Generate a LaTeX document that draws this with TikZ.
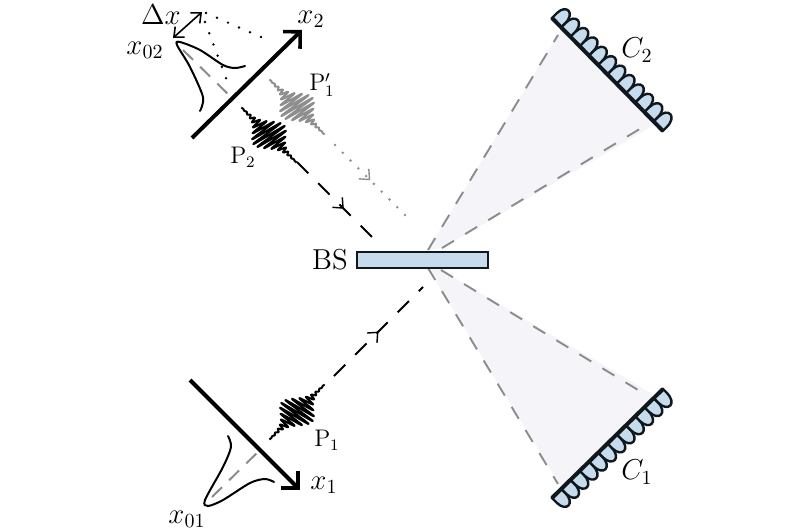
\documentclass[tikz,border=0pt]{standalone}
\usetikzlibrary{arrows.meta,decorations.markings}
\definecolor{bluefill}{HTML}{C6DCEC}
\definecolor{conefill}{HTML}{F4F4F9}
\definecolor{dashgray}{HTML}{8C8C8C}
\definecolor{pulsegray}{HTML}{8E8E8E}
\definecolor{edge}{HTML}{10181E}
\tikzset{
  axisline/.style={line width=2pt,-{Straight Barb[length=6pt,width=12pt,line width=1.8pt]}},
  conedash/.style={dashgray,line width=.95pt,dash pattern=on 7pt off 6.5pt},
  beamdash/.style={black,line width=.95pt,dash pattern=on 8pt off 7pt},
  dots/.style={line width=1.35pt,line cap=round,dash pattern=on 0pt off 6pt},
  graydots/.style={pulsegray,line width=1.4pt,line cap=round,dash pattern=on 0pt off 5.5pt},
  midtip/.style={postaction={decorate,decoration={markings,mark=at position #1 with {\arrow[solid,line width=.7pt]{Straight Barb[length=4pt,width=7pt]}}}}},
  bump/.style={fill=bluefill,draw=edge,line width=1.2pt},
  label/.style={inner sep=0pt,font=\large},
  biglabel/.style={inner sep=0pt,font=\Large},
  curve/.style={line width=1pt,smooth,line cap=round},
}
% #1 x0, #2 y0, #3 dx, #4 dy, #5 nx, #6 ny
\newcommand\detectorrow[6]{%
  \foreach \i in {0,...,11}{%
    \pgfmathsetmacro\ax{#1+\i*#3}\pgfmathsetmacro\ay{#2+\i*#4}%
    \pgfmathsetmacro\bx{\ax+#3}\pgfmathsetmacro\by{\ay+#4}%
    \draw[bump] (\ax,\ay) -- (\ax+7*#5,\ay+7*#6)
      .. controls (\ax+20*#5,\ay+20*#6) and (\bx+21*#5,\by+21*#6) .. (\bx+5*#5,\by+5*#6) -- (\bx,\by) -- cycle;
  }%
}
% #1 cx, #2 cy, #3 ux, #4 uy, #5 nx, #6 ny, #7 colour
\newcommand\pulse[7]{%
  \draw[#7,line width=1pt,line join=round] plot[domain=-39:39,samples=420,smooth,variable=\t]
    ({#1+(\t+.2*(16*exp(-(\t/14)^2)+1.6*(1-(\t/39)^2))*sin(\t*360/4.8))*#3+(16*exp(-(\t/14)^2)+1.6*(1-(\t/39)^2))*sin(\t*360/4.8)*#5},
     {#2+(\t+.2*(16*exp(-(\t/14)^2)+1.6*(1-(\t/39)^2))*sin(\t*360/4.8))*#4+(16*exp(-(\t/14)^2)+1.6*(1-(\t/39)^2))*sin(\t*360/4.8)*#6});
}
\begin{document}
\begin{tikzpicture}[x=.5pt,y=-.5pt]
\useasboundingbox[fill=white] (0,0) rectangle (800,530);
% anchors
\coordinate (x2s) at (192,138); \coordinate (x2e) at (302,30);
\coordinate (x1s) at (190,380); \coordinate (x1e) at (300,490);
\coordinate (apexT) at (428,250); \coordinate (apexTb) at (442,248);
\coordinate (c2a) at (558,35); \coordinate (c2b) at (643,127);
\coordinate (c2af) at (562,28); \coordinate (c2bf) at (656,124);
\coordinate (apexB) at (428,268); \coordinate (apexBb) at (441,270);
\coordinate (c1a) at (558,484); \coordinate (c1b) at (643,393);
\coordinate (c1af) at (562,488); \coordinate (c1bf) at (656,396);
% cones
\fill[conefill] (apexT) -- (c2af) -- (c2bf) -- (apexTb) -- cycle;
\fill[conefill] (apexB) -- (c1af) -- (c1bf) -- (apexBb) -- cycle;
\draw[conedash] (apexT) -- (c2a);
\draw[conedash] (apexTb) -- (c2b);
\draw[conedash] (apexB) -- (c1a);
\draw[conedash] (apexBb) -- (c1b);
% detectors
\detectorrow{552}{18}{9.25}{9.4}{.707}{-.707}
\draw[edge,line width=2pt] (552,18) -- (663,131);
\detectorrow{552}{498}{9.25}{-9.08}{.707}{.707}
\draw[edge,line width=2pt] (552,498) -- (663,389);
\node[biglabel] (C2) at (637,50) {$C_2$};
\node[biglabel] (C1) at (637,472) {$C_1$};
% beam splitter
\node[draw=edge,fill=bluefill,line width=1pt,minimum width=65.5pt,minimum height=8pt,inner sep=0pt] (BS) at (422.5,260) {};
\node[biglabel] (BSl) at (330,260) {BS};
% gaussians' dashed axes
\coordinate (g2a) at (183,50); \coordinate (g2b) at (232,98);
\coordinate (g1a) at (212,497); \coordinate (g1b) at (260,450);
\draw[dashgray,line width=1pt,dash pattern=on 7pt off 5pt] (g2a) -- (g2b);
\draw[dashgray,line width=1pt,dash pattern=on 7pt off 5pt] (g1a) -- (g1b);
% axes
\draw[axisline] (x2s) -- (x2e);
\draw[axisline] (x1s) -- (x1e);
\node[biglabel] (x2l) at (311,19) {$x_2$};
\node[biglabel] (x1l) at (324,485) {$x_1$};
\node[biglabel] (x01l) at (187,519) {$x_{01}$};
\node[biglabel] (x02l) at (145,50) {$x_{02}$};
\node[biglabel] (dxl) at (161,15) {$\Delta x$};
% gaussians
\draw[curve] plot coordinates {(200,111) (203,97) (190,67) (177,45) (180,42) (200,50) (223,65) (235,68) (245,66)};
\draw[curve] plot coordinates {(228,436) (231,447) (223,467) (205,500) (208,506) (223,500) (250,483) (265,479) (274,482)};
% dotted guides and Delta x arrow
\coordinate (d1a) at (206,13); \coordinate (d1b) at (270,41);
\coordinate (d2a) at (205,22); \coordinate (d2b) at (229,86);
\draw[dots] (d1a) -- (d1b);
\draw[dots] (d2a) -- (d2b);
\coordinate (dxa) at (202,12); \coordinate (dxb) at (173,38);
\draw[line width=.8pt,{Straight Barb[length=4pt,width=7pt]}-{Straight Barb[length=4pt,width=7pt]}] (dxa) -- (dxb);
% pulses
\pulse{297}{107}{.707}{.707}{.707}{-.707}{pulsegray}
\pulse{269}{135}{.707}{.707}{.707}{-.707}{black}
\pulse{297}{412}{.707}{-.707}{.707}{.707}{black}
\node[label] (P1p) at (322,85) {$\mathrm{P}_1'$};
\node[label] (P2l) at (243,157) {$\mathrm{P}_2$};
\node[label] (P1l) at (327,440) {$\mathrm{P}_1$};
% beams
\coordinate (b2s) at (297,162); \coordinate (b2e) at (375,240);
\coordinate (bgs) at (335,145); \coordinate (bge) at (407,217);
\coordinate (b1s) at (334,376); \coordinate (b1e) at (423,287);
\draw[beamdash,midtip=.6] (b2s) -- (b2e);
\draw[graydots,midtip=.49] (bgs) -- (bge);
\draw[beamdash,midtip=.5] (b1s) -- (b1e);
\end{tikzpicture}
\end{document}
